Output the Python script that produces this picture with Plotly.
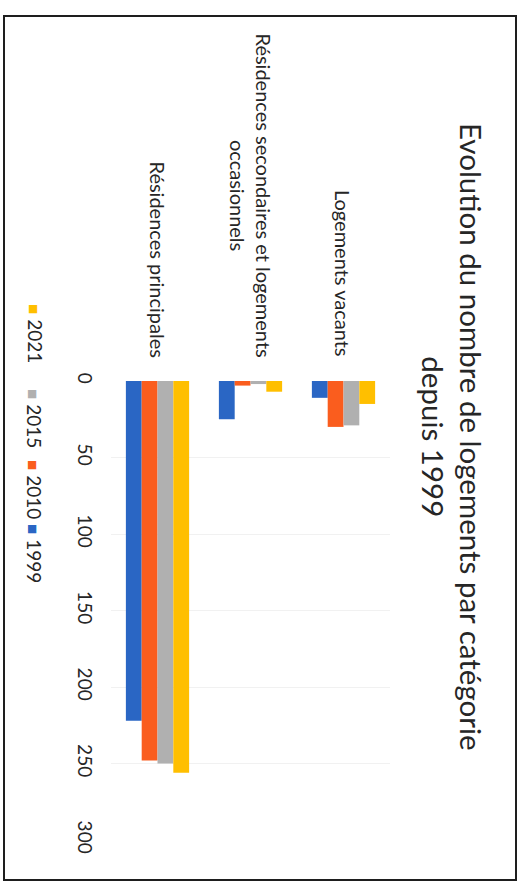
import plotly.graph_objects as go

# ---- data ----
categories = ["Résidences principales",
              "Résidences secondaires et logements occasionnels",
              "Logements vacants"]
cat_labels = ["Résidences principales",
              "Résidences secondaires et logements<br>occasionnels",
              "Logements vacants"]
years = ["1999", "2010", "2015", "2021"]
v1999 = [222, 25, 11]
v2010 = [248, 3, 30]
v2015 = [250, 2, 29]
v2021 = [256, 7, 15]
values = {"1999": v1999, "2010": v2010, "2015": v2015, "2021": v2021}
legend_order = ["2021", "2015", "2010", "1999"]
y_ticks = [0, 50, 100, 150, 200, 250, 300]
title_lines = ["Evolution du nombre de logements par catégorie", "depuis 1999"]

colors = {"1999": "#2a66c4", "2010": "#fa5d1e", "2015": "#b0b0b0", "2021": "#ffbf00"}
FONT = "Lato"
TXT = "#262626"

# ---- geometry (pixels in the 531x885 page) ----
W, H = 531, 885
L, R, T, B = 111, 141, 381, 45
pw, ph = W - L - R, H - T - B


def px(x):
    return (x - L) / pw


def py(y):
    return (H - B - y) / ph


fig = go.Figure()
for yr in years:
    fig.add_trace(go.Bar(
        x=categories, y=values[yr], name=yr,
        marker=dict(color=colors[yr], line=dict(width=0)),
    ))

fig.update_layout(
    width=W, height=H,
    margin=dict(l=L, r=R, t=T, b=B, pad=0),
    paper_bgcolor="white", plot_bgcolor="white",
    barmode="group", bargap=0.32, bargroupgap=0.0,
    showlegend=False,
    font=dict(family=FONT, color=TXT),
)
fig.update_xaxes(showticklabels=False, showgrid=False, zeroline=False,
                 showline=False, ticks="")
fig.update_yaxes(range=[300, 0], tickvals=y_ticks, ticktext=[str(t) for t in y_ticks],
                 tickangle=90, tickfont=dict(family=FONT, size=19, color=TXT),
                 showgrid=True, gridcolor="#f1f1f1", gridwidth=1,
                 zeroline=False, showline=False, ticks="", ticklabelstandoff=13)

annotations = []
# title (rotated)
annotations.append(dict(
    text="<br>".join(title_lines), x=px(453), y=py(437), xref="paper", yref="paper",
    textangle=90, showarrow=False, xanchor="center", yanchor="middle", align="center",
    font=dict(family=FONT, size=29.5, color=TXT)))
# category labels (rotated)
for cat, lab in zip(categories, cat_labels):
    annotations.append(dict(
        text=lab, x=cat, y=py(359), xref="x", yref="paper",
        textangle=90, showarrow=False, xanchor="center", yanchor="bottom", align="center",
        font=dict(family=FONT, size=20, color=TXT)))
# legend (rotated)
legend_centres = {"2021": 333, "2015": 418, "2010": 489, "1999": 553}
for yr in legend_order:
    annotations.append(dict(
        text='<span style="color:%s;font-size:17px">■</span> %s' % (colors[yr], yr),
        x=px(35), y=py(legend_centres[yr]), xref="paper", yref="paper",
        textangle=90, showarrow=False, xanchor="center", yanchor="middle",
        font=dict(family=FONT, size=19, color=TXT)))
fig.update_layout(annotations=annotations)

# chart frame
fig.add_shape(type="rect", xref="paper", yref="paper",
              x0=px(4), x1=px(516), y0=py(880), y1=py(16),
              line=dict(color="#1e1e1e", width=2), fillcolor="rgba(0,0,0,0)")

fig.write_html("out.html")
